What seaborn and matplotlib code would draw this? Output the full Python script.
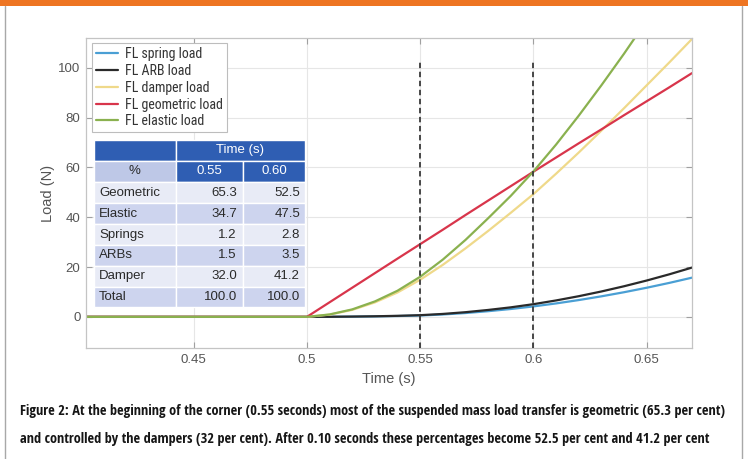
import matplotlib
matplotlib.use("Agg")
import matplotlib.pyplot as plt
import matplotlib.font_manager as fm
from matplotlib.patches import Rectangle
from matplotlib.lines import Line2D
import seaborn as sns
import pandas as pd

# ---- data -------------------------------------------------------------
time = [0.40, 0.50, 0.51, 0.52, 0.53, 0.54, 0.55, 0.56, 0.57, 0.58,
        0.59, 0.60, 0.61, 0.62, 0.63, 0.64, 0.65, 0.66, 0.67]
spring_load = [0, 0, 0.03, 0.10, 0.20, 0.34, 0.54, 0.96, 1.54, 2.28,
               3.16, 4.20, 5.40, 6.75, 8.25, 9.90, 11.70, 13.65, 15.75]
arb_load = [0, 0, 0.04, 0.12, 0.24, 0.42, 0.68, 1.18, 1.88, 2.78,
            3.83, 5.10, 6.60, 8.30, 10.20, 12.30, 14.60, 17.10, 19.80]
damper_load = [0, 0, 0.9, 2.8, 5.8, 9.8, 14.9, 20.9, 27.5, 34.5,
               41.8, 49.3, 57.5, 66.0, 74.8, 83.8, 93.0, 102.2, 111.6]
geometric_load = [0, 0, 5.85, 11.7, 17.55, 23.4, 29.2, 35.0, 40.9, 46.7,
                  52.5, 58.3, 64.0, 69.7, 75.3, 81.0, 86.6, 92.2, 97.9]
elastic_load = [0, 0, 0.97, 3.0, 6.2, 10.5, 16.1, 23.0, 30.9, 39.6,
                48.6, 58.4, 69.2, 80.8, 93.0, 105.7, 119.0, 132.7, 146.9]

series_labels = ["FL spring load", "FL ARB load", "FL damper load",
                 "FL geometric load", "FL elastic load"]
series_colors = ["#4A9FD4", "#2A2A2A", "#EFD98A", "#D8354B", "#8AB14F"]

marker_times = [0.55, 0.60]

table_header = ["%", "0.55", "0.60"]
table_rows = ["Geometric", "Elastic", "Springs", "ARBs", "Damper", "Total"]
share_055 = ["65.3", "34.7", "1.2", "1.5", "32.0", "100.0"]
share_060 = ["52.5", "47.5", "2.8", "3.5", "41.2", "100.0"]

caption = [
    "Figure 2: At the beginning of the corner (0.55 seconds) most of the suspended mass load transfer is geometric (65.3 per cent)",
    "and controlled by the dampers (32 per cent). After 0.10 seconds these percentages become 52.5 per cent and 41.2 per cent",
]

# ---- figure -----------------------------------------------------------
sns.set_theme(style="whitegrid")
plt.rcParams["font.family"] = ["Liberation Sans", "DejaVu Sans"]

W, H = 748, 459
fig = plt.figure(figsize=(W / 100, H / 100), dpi=100)
fig.patch.set_facecolor("white")
renderer = fig.canvas.get_renderer()


def fx(px):
    return px / W


def fy(py):
    return 1 - py / H


# ---- face selection: pick the sans face whose width suits the space ---
SANS_NAMES = {"liberation sans", "liberation sans narrow", "dejavu sans",
              "dejavu sans condensed", "noto sans", "noto sans condensed",
              "noto sans semicondensed", "noto sans extracondensed",
              "open sans", "open sans condensed", "open sans semicondensed",
              "roboto", "roboto condensed", "lato", "inter"}


def _weight(w):
    if isinstance(w, str):
        return fm.weight_dict.get(w, 400)
    return int(w)


def fitted_font(sample, target_px, target_pt, bold):
    best = None
    seen = set()
    for f in fm.fontManager.ttflist:
        if f.name.lower() not in SANS_NAMES or f.fname in seen:
            continue
        seen.add(f.fname)
        if f.style != "normal":
            continue
        path = f.fname.lower()
        if "italic" in path or "oblique" in path:
            continue
        w = _weight(f.weight)
        if bold and not (600 <= w <= 800):
            continue
        if not bold and not (350 <= w <= 450):
            continue
        try:
            prop = fm.FontProperties(fname=f.fname, size=10)
            width, _, _ = renderer.get_text_width_height_descent(sample, prop,
                                                                 ismath=False)
        except Exception:
            continue
        if width <= 0:
            continue
        size = 10 * target_px / width
        score = abs(size - target_pt)
        if best is None or score < best[0]:
            best = (score, f.fname, size)
    if best is None:
        return fm.FontProperties(family=["Liberation Sans", "DejaVu Sans"],
                                 size=target_pt,
                                 weight="bold" if bold else "normal")
    return fm.FontProperties(fname=best[1], size=best[2])


legend_font = fitted_font("FL geometric load", 98, 10.5, bold=False)
caption_font = fitted_font(caption[0], 710, 11.5, bold=True)
table_font = fm.FontProperties(family=["Liberation Sans", "DejaVu Sans"], size=9.5)

# page frame: orange band and thin grey side rules
fig.patches.append(Rectangle((0, fy(6)), 1, 6 / H, transform=fig.transFigure,
                             facecolor="#EE7522", edgecolor="none", zorder=0))
for xpix in (5, 742):
    fig.lines.append(Line2D([fx(xpix), fx(xpix)], [0, fy(6)],
                            transform=fig.transFigure, color="#A8A8A8", lw=1.0))

# ---- long-form frame for seaborn --------------------------------------
frames = []
for label, values in zip(series_labels, [spring_load, arb_load, damper_load,
                                         geometric_load, elastic_load]):
    frames.append(pd.DataFrame({"Time": time, "Load": values, "series": label}))
df = pd.concat(frames, ignore_index=True)

ax = fig.add_axes([fx(86), fy(348), fx(692) - fx(86), fy(38) - fy(348)])
ax.set_facecolor("white")

sns.lineplot(data=df, x="Time", y="Load", hue="series", hue_order=series_labels,
             palette=dict(zip(series_labels, series_colors)), estimator=None,
             sort=False, linewidth=1.6, ax=ax, zorder=2)

ax.vlines(marker_times, -12.5, 102.5, colors="#3A3A3A",
          linestyles=(0, (3, 2)), linewidth=1.3, zorder=3)

ax.set_xlim(0.4025, 0.67)
ax.set_ylim(-12.5, 112)
ax.set_xticks([0.45, 0.5, 0.55, 0.6, 0.65])
ax.set_xticklabels(["0.45", "0.5", "0.55", "0.6", "0.65"])
ax.set_yticks([0, 20, 40, 60, 80, 100])
ax.grid(True, color="#E6E6E6", linewidth=0.8)
for s in ax.spines.values():
    s.set_color("#C4C4C4")
    s.set_linewidth(0.9)
ax.tick_params(direction="in", length=4, width=0.8, color="#A0A0A0",
               labelsize=9.5, labelcolor="#555555", pad=4,
               top=True, right=True, bottom=True, left=True)
ax.set_xlabel("Time (s)", fontsize=10.5, color="#555555", labelpad=5)
ax.set_ylabel("Load (N)", fontsize=10.5, color="#555555", labelpad=2)

handles, labels = ax.get_legend_handles_labels()
leg = ax.legend(handles, labels, loc="upper left",
                bbox_to_anchor=((92 - 86) / 606, (348 - 43) / 310),
                borderaxespad=0, frameon=True, fancybox=False, framealpha=1,
                edgecolor="#BDBDBD", handlelength=1.6, handletextpad=0.45,
                labelspacing=0.2, borderpad=0.3, prop=legend_font)
leg.get_frame().set_linewidth(0.8)
for txt in leg.get_texts():
    txt.set_color("#333333")

# ---- percentage table -------------------------------------------------
dark = "#2F5EB3"
col_edges = [94, 175.7, 243.3, 305]
row_edges = [140, 161, 181.7, 203.3, 224, 245, 266, 286.7, 307.3]
light_rows = ["#E8EBF6", "#CDD4EE"]


def cell(c0, c1, r0, r1, color):
    ax.add_patch(Rectangle((fx(col_edges[c0]), fy(row_edges[r1])),
                           fx(col_edges[c1]) - fx(col_edges[c0]),
                           fy(row_edges[r0]) - fy(row_edges[r1]),
                           transform=fig.transFigure, facecolor=color,
                           edgecolor="white", linewidth=1.0, zorder=5,
                           clip_on=False))


def cell_text(xpix, r, s, ha, color):
    yc = (row_edges[r] + row_edges[r + 1]) / 2
    ax.text(fx(xpix), fy(yc), s, transform=fig.transFigure, ha=ha, va="center",
            color=color, zorder=6, fontproperties=table_font)


cell(0, 1, 0, 1, dark)
cell(1, 3, 0, 1, dark)
cell_text((col_edges[1] + col_edges[3]) / 2, 0, "Time (s)", "center", "white")
cell(0, 1, 1, 2, "#BEC8E7")
cell(1, 2, 1, 2, dark)
cell(2, 3, 1, 2, dark)
cell_text((col_edges[0] + col_edges[1]) / 2, 1, table_header[0], "center", "#2A2A2A")
cell_text((col_edges[1] + col_edges[2]) / 2, 1, table_header[1], "center", "white")
cell_text((col_edges[2] + col_edges[3]) / 2, 1, table_header[2], "center", "white")

for i, (name, a, b) in enumerate(zip(table_rows, share_055, share_060)):
    r = i + 2
    color = light_rows[i % 2]
    for c in range(3):
        cell(c, c + 1, r, r + 1, color)
    cell_text(col_edges[0] + 5, r, name, "left", "#2A2A2A")
    cell_text(col_edges[2] - 6.5, r, a, "right", "#2A2A2A")
    cell_text(col_edges[3] - 5, r, b, "right", "#2A2A2A")

# ---- caption ------------------------------------------------------------
for line, ypix in zip(caption, (411, 439)):
    fig.text(fx(20), fy(ypix), line, ha="left", va="center", color="#161616",
             fontproperties=caption_font)

fig.savefig("out.png", dpi=100, facecolor="white")
